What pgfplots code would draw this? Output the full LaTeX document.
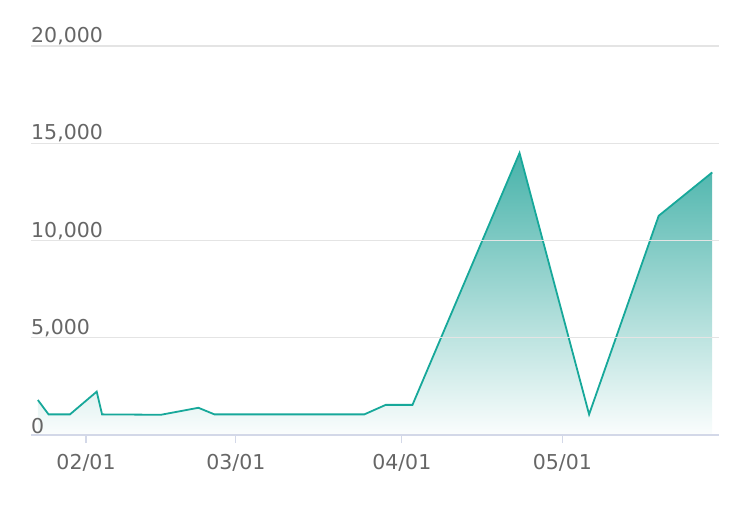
\documentclass[border=0pt]{standalone}
\usepackage{fontspec}
\setmainfont{DejaVu Sans}
\usepackage{pgfplots}
\pgfplotsset{compat=1.18}
\definecolor{lineteal}{HTML}{17A89A}
\definecolor{fillteal}{HTML}{2EA89E}
\definecolor{labelgray}{HTML}{666666}
\definecolor{gridgray}{HTML}{E4E4E4}
\definecolor{axisblue}{HTML}{D3D8E8}
\begin{document}
\begin{tikzpicture}
\begin{axis}[
  scale only axis, width=688pt, height=389pt,
  xmin=-10.28, xmax=118.27, ymin=0, ymax=20000,
  scaled y ticks=false,
  axis x line*=bottom, axis y line*=left,
  y axis line style={draw=none},
  x axis line style={draw=axisblue, line width=1.2pt},
  xtick={0,28,59,89}, xticklabels={02/01,03/01,04/01,05/01},
  x tick style={draw=axisblue, line width=1.2pt},
  xtick align=outside, major tick length=8pt,
  ytick={0,5000,10000,15000,20000},
  yticklabels={0,{5,000},{10,000},{15,000},{20,000}},
  y tick style={draw=none},
  ymajorgrids, grid style={draw=gridgray, line width=1.2pt},
  tick label style={font=\fontsize{20.5}{24}\selectfont, text=labelgray},
  yticklabel style={anchor=south west, inner sep=0pt, xshift=0pt, yshift=0.8pt},
  xticklabel style={anchor=north, inner sep=0pt, yshift=-11pt},
  axis on top, clip=false,
]
\addplot[draw=none, top color=fillteal!88!white, bottom color=fillteal!2!white, forget plot] coordinates {
(-9,1800) (-7,1060) (-3,1060) (2,2230) (3,1060) (14,1040) (21,1400) (24,1060) (52,1060) (56,1550) (61,1550) (81,14500) (94,1060) (107,11270) (117,13500)
} \closedcycle;
\addplot[draw=lineteal, line width=1.8pt, mark=none] coordinates {
(-9,1800) (-7,1060) (-3,1060) (2,2230) (3,1060) (14,1040) (21,1400) (24,1060) (52,1060) (56,1550) (61,1550) (81,14500) (94,1060) (107,11270) (117,13500)
};
\coordinate (bl) at ([xshift=-31pt,yshift=-69pt]rel axis cs:0,0);
\coordinate (tr) at ([xshift=23pt,yshift=46pt]rel axis cs:1,1);
\end{axis}
\path (bl) rectangle (tr);
\end{tikzpicture}
\end{document}
